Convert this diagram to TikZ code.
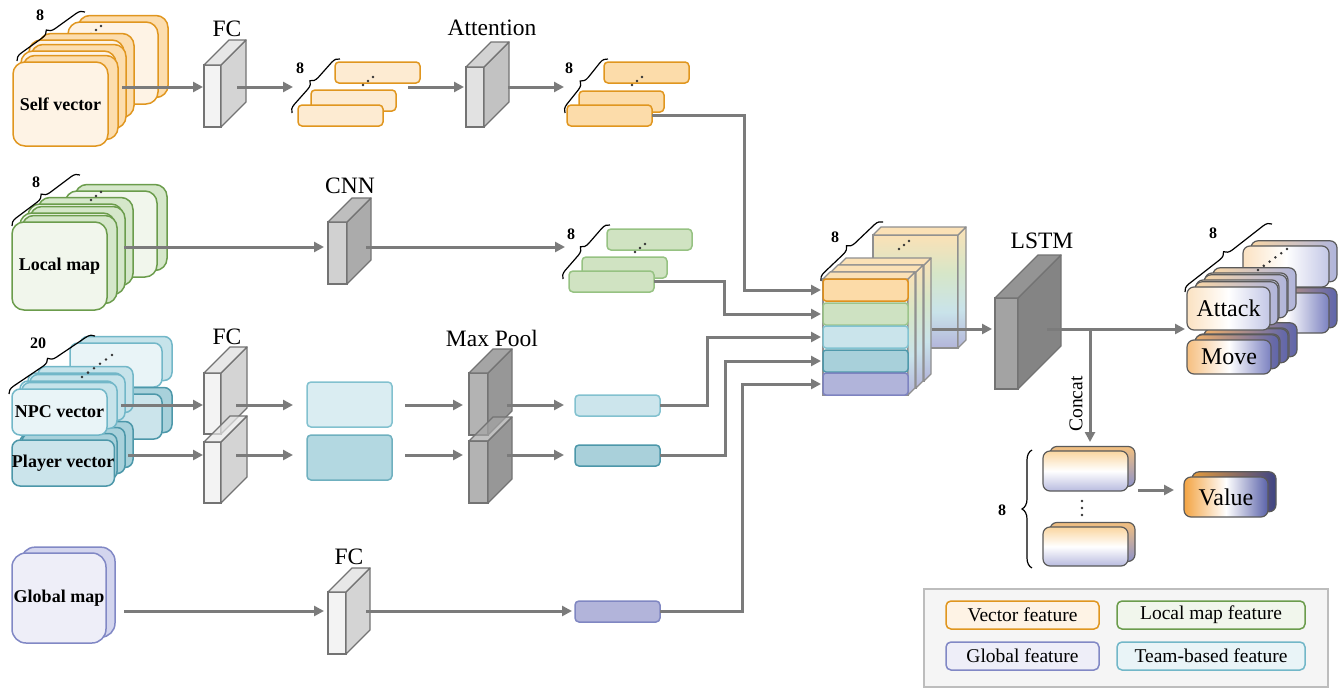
\documentclass[tikz,border=0pt]{standalone}
\usepackage{fontspec}
\setmainfont{Liberation Serif}
\usetikzlibrary{arrows.meta,decorations.pathreplacing,calc}
% colours
\definecolor{cOrS}{HTML}{E0961F}\definecolor{cSVf}{HTML}{FEF3E5}\definecolor{cSVb}{HTML}{FCDDAE}
\definecolor{cFO}{HTML}{FDEBD2}\definecolor{cAO}{HTML}{FCDCAA}
\definecolor{cGrS}{HTML}{6B9C4C}\definecolor{cLMf}{HTML}{F1F6EC}\definecolor{cLMb}{HTML}{D5E7CA}
\definecolor{cLO}{HTML}{D0E3C2}\definecolor{cLOs}{HTML}{96C282}
\definecolor{cNPf}{HTML}{E9F4F7}\definecolor{cNPb}{HTML}{C6E3EA}\definecolor{cCyS}{HTML}{72B7C8}
\definecolor{cPLf}{HTML}{CBE4EB}\definecolor{cPLb}{HTML}{A8D1DB}\definecolor{cPlS}{HTML}{4C97A9}
\definecolor{cNBa}{HTML}{DAEDF2}\definecolor{cNBas}{HTML}{82C1CF}\definecolor{cNBb}{HTML}{B3D8E1}\definecolor{cNBbs}{HTML}{6FB0BF}
\definecolor{cNOa}{HTML}{CCE5EC}\definecolor{cNOb}{HTML}{A9D0DA}
\definecolor{cGMf}{HTML}{EEEEF8}\definecolor{cGMb}{HTML}{D3D5EE}\definecolor{cPuS}{HTML}{8188C5}
\definecolor{cGO}{HTML}{B2B4DA}\definecolor{cGOs}{HTML}{8087C2}
\definecolor{cSa}{HTML}{FCDBA8}\definecolor{cSas}{HTML}{E0901C}
\definecolor{cSb}{HTML}{CEE2C2}\definecolor{cSbs}{HTML}{9CC48A}
\definecolor{cSc}{HTML}{CAE4EB}\definecolor{cScs}{HTML}{82C3D1}
\definecolor{cSd}{HTML}{A8D0DA}\definecolor{cSds}{HTML}{4F99AB}
\definecolor{cSe}{HTML}{B1B4DA}\definecolor{cSes}{HTML}{7E83C0}
\definecolor{cFCf}{HTML}{F3F3F3}\definecolor{cFCs}{HTML}{D4D4D4}\definecolor{cFCt}{HTML}{E7E7E7}
\definecolor{cATf}{HTML}{E2E2E2}\definecolor{cATs}{HTML}{C2C2C2}\definecolor{cATt}{HTML}{D3D3D3}
\definecolor{cCNf}{HTML}{D1D1D1}\definecolor{cCNs}{HTML}{ABABAB}\definecolor{cCNt}{HTML}{BEBEBE}
\definecolor{cMPf}{HTML}{B3B3B3}\definecolor{cMPs}{HTML}{979797}\definecolor{cMPt}{HTML}{A5A5A5}
\definecolor{cLSf}{HTML}{A3A3A3}\definecolor{cLSs}{HTML}{848484}\definecolor{cLSt}{HTML}{949494}
\definecolor{cEdge}{HTML}{737373}\definecolor{cArr}{HTML}{7B7B7B}\definecolor{cDk}{HTML}{5A5A5A}
\definecolor{cgO}{HTML}{FBE1B6}\definecolor{cgG}{HTML}{D6E6C8}\definecolor{cgC}{HTML}{C9E3EA}\definecolor{cgP}{HTML}{B3B5DA}
\definecolor{cLegF}{HTML}{F5F5F5}\definecolor{cLegS}{HTML}{BDBDBD}
\definecolor{cAtL}{HTML}{FBE2C2}\definecolor{cAtR}{HTML}{C3C7E6}\definecolor{cAbL}{HTML}{F7D5A6}\definecolor{cAbR}{HTML}{B0B5DC}
\definecolor{cMvL}{HTML}{F6BF80}\definecolor{cMvR}{HTML}{7B81C0}\definecolor{cMbL}{HTML}{F0B06A}\definecolor{cMbR}{HTML}{5E65AC}
\definecolor{cVgT}{HTML}{FAD6A0}\definecolor{cVgB}{HTML}{B8BBDF}\definecolor{cVbT}{HTML}{F3C07F}\definecolor{cVbB}{HTML}{8D93CA}
\definecolor{cVaL}{HTML}{F3A443}\definecolor{cVaR}{HTML}{5A62A9}\definecolor{cVcL}{HTML}{E49A3C}\definecolor{cVcR}{HTML}{3E4585}
\definecolor{cDot}{HTML}{333333}
\pgfdeclareverticalshading{concatgrad}{100bp}{color(0bp)=(cgP); color(25bp)=(cgP); color(41bp)=(cgC); color(58bp)=(cgG); color(75bp)=(cgO); color(100bp)=(cgO)}
\newcommand{\lblb}{\fontsize{18}{20}\selectfont\bfseries}
\newcommand{\bigtxt}{\fontsize{24}{26}\selectfont}
\newcommand{\cardr}{12}
% card: name, x, y, w, h, front style, back style, offset, text
\newcommand{\card}[9]{%
  \path[#7, rounded corners=\cardr] ($(#2,#3)+(#8,-0.65*#8)$) rectangle ++(#4,#5);
  \node[#6, rounded corners=\cardr, minimum width=#4, minimum height=#5, anchor=north west, inner sep=0, outer sep=0] (#1) at (#2,#3) {#9};
}
% slab: name, x, y, w, h, depth, front, side, top
\newcommand{\slab}[9]{%
  \node[slabface, fill=#7, minimum width=#4, minimum height=#5, anchor=north west] (#1) at (#2,#3) {};
  \filldraw[slabline, fill=#8] (#1.north east) -- ++(#6,-#6) -- ++(0,#5) -- (#1.south east) -- cycle;
  \filldraw[slabline, fill=#9] (#1.north west) -- ++(#6,-#6) -- ++(#4,0) -- (#1.north east) -- cycle;
}
% concat slab: name, x, y, w, h, depth
\newcommand{\cslab}[6]{%
  \node[slabface, draw=cEdge!80, shade, shading=concatgrad, minimum width=#4, minimum height=#5, anchor=north west] (#1) at (#2,#3) {};
  \draw[slabline, draw=cEdge!80, shade, shading=concatgrad] (#1.north east) -- ++(#6,-#6) -- ++(0,#5) -- (#1.south east) -- cycle;
  \filldraw[slabline, draw=cEdge!80, fill=cgO] (#1.north west) -- ++(#6,-#6) -- ++(#4,0) -- (#1.north east) -- cycle;
}
\newcommand{\diagdots}[2]{\fill[cDot] (#1-5,#2+4) circle[radius=1.4pt] (#1,#2) circle[radius=1.4pt] (#1+5,#2-4) circle[radius=1.4pt];}
\tikzset{
  slabface/.style={rectangle, draw=cEdge, line width=1.3pt, inner sep=0, outer sep=0},
  slabline/.style={draw=cEdge, line width=1.3pt, line join=round},
  arr/.style={draw=cArr, line width=3pt, -{Triangle[length=10pt,width=10pt]}},
  elb/.style={draw=cArr, line width=3pt, -{Triangle[length=10pt,width=10pt]}, rounded corners=0pt},
  fbox/.style={rectangle, rounded corners=4pt, line width=1.5pt, minimum width=85, minimum height=21, inner sep=0, outer sep=0, anchor=north west},
  brc/.style={decorate, decoration={brace, amplitude=8pt}, line width=1.2pt, black},
  num/.style={font=\fontsize{16}{18}\selectfont\bfseries},
  ttl/.style={font=\fontsize{23.5}{26}\selectfont},
  legbox/.style={rectangle, rounded corners=5pt, line width=1.5pt, minimum height=28, inner sep=0, font=\fontsize{19.5}{22}\selectfont},
  svfront/.style={fill=cSVf, draw=cOrS, line width=1.5pt},
  svback/.style={fill=cSVb, draw=cOrS, line width=1.5pt},
  lmfront/.style={fill=cLMf, draw=cGrS, line width=1.5pt},
  lmback/.style={fill=cLMb, draw=cGrS, line width=1.5pt},
  npfront/.style={fill=cNPf, draw=cCyS, line width=1.5pt},
  npback/.style={fill=cNPb, draw=cCyS, line width=1.5pt},
  plfront/.style={fill=cPLf, draw=cPlS, line width=1.5pt},
  plback/.style={fill=cPLb, draw=cPlS, line width=1.5pt},
  gmfront/.style={fill=cGMf, draw=cPuS, line width=1.5pt},
  gmback/.style={fill=cGMb, draw=cPuS, line width=1.5pt},
  atkfront/.style={left color=cAtL, right color=cAtR, middle color=white, draw=cDk, line width=1.2pt},
  atkback/.style={left color=cAbL, right color=cAbR, draw=cDk, line width=1.2pt},
  movfront/.style={left color=cMvL, right color=cMvR, middle color=white, draw=cDk, line width=1.2pt},
  movback/.style={left color=cMbL, right color=cMbR, draw=cDk, line width=1.2pt},
  vgfront/.style={top color=cVgT, bottom color=cVgB, middle color=white, draw=cDk, line width=1.2pt},
  vgback/.style={top color=cVbT, bottom color=cVbB, draw=cDk, line width=1.2pt},
  valfront/.style={left color=cVaL, right color=cVaR, middle color=white, draw=cDk, line width=1.2pt},
  valback/.style={left color=cVcL, right color=cVcR, draw=cDk, line width=1.2pt},
}
\begin{document}
\begin{tikzpicture}[x=1pt,y=-1pt]
\useasboundingbox (0,0) rectangle (1343,688);

% ---------------- Self vector stack
\renewcommand{\cardr}{12}
\card{svf}{68}{22}{90}{82}{svfront}{svback}{10}{}
\diagdots{96}{30}
\card{sv3}{29}{40}{95}{84}{svfront}{svback}{10}{}
\card{sv2}{21}{51}{95}{84}{svfront}{svback}{10}{}
\card{sv1}{13}{62}{95}{84}{svfront}{svback}{10}{\lblb Self vector}
\draw[brc] (17,61) -- (85,12);
\node[num] (n8a) at (40,15) {8};

% ---------------- Local map stack
\card{lmf}{65}{191}{92}{86}{lmfront}{lmback}{10}{}
\card{lm3}{28}{204}{95}{88}{lmfront}{lmback}{10}{}
\card{lm2}{20}{213}{95}{88}{lmfront}{lmback}{10}{}
\card{lm1}{12}{222}{95}{88}{lmfront}{lmback}{10}{\lblb Local map}
\diagdots{96}{196}
\draw[brc] (12,226) -- (80,175);
\node[num] (n8b) at (36,182) {8};

% ---------------- NPC / Player stacks
\renewcommand{\cardr}{8}
\card{npf}{70}{343}{92}{44}{npfront}{npback}{10}{}
\card{plf}{70}{394}{92}{45}{plfront}{plback}{10}{}
\card{pl3}{28}{428}{95}{46}{plfront}{plback}{10}{}
\card{pl2}{20}{434}{95}{46}{plfront}{plback}{10}{}
\card{pl1}{12}{440}{95}{46}{plfront}{plback}{10}{\lblb Player vector}
\card{np3}{28}{373}{95}{46}{npfront}{npback}{10}{}
\card{np2}{20}{381}{95}{46}{npfront}{npback}{10}{}
\card{np1}{12}{389}{95}{46}{npfront}{npback}{10}{\lblb NPC vector}
\foreach \k in {0,...,5} {\fill[cDot] (82+6*\k,377-4.4*\k) circle[radius=1.4pt];}
\draw[brc] (9,394) -- (95,336);
\node[num] (n20) at (38,343) {20};

% ---------------- Global map
\renewcommand{\cardr}{14}
\card{gm}{12}{553}{94}{90}{gmfront}{gmback}{9}{\lblb Global map}

% ---------------- layers
\slab{fc1}{204}{65}{17}{62}{25}{cFCf}{cFCs}{cFCt}
\node[ttl] (tFCa) at (227,29) {FC};
\slab{att}{466}{67}{18}{60}{25}{cATf}{cATs}{cATt}
\node[ttl] (tAtt) at (492,28) {Attention};
\slab{cnn}{328}{222}{19}{62}{24}{cCNf}{cCNs}{cCNt}
\node[ttl] (tCNN) at (350,186) {CNN};
\slab{fc2}{204}{373}{17}{61}{26}{cFCf}{cFCs}{cFCt}
\slab{fc3}{204}{442}{17}{61}{26}{cFCf}{cFCs}{cFCt, fill opacity=0.7}
\node[ttl] (tFCb) at (227,337) {FC};
\slab{mp1}{469}{373}{19}{62}{24}{cMPf}{cMPs}{cMPt}
\slab{mp2}{469}{441}{19}{62}{24}{cMPf}{cMPs}{cMPt, fill opacity=0.7}
\node[ttl] (tMP) at (492,338) {Max Pool};
\slab{fc4}{328}{592}{18}{62}{24}{cFCf}{cFCs}{cFCt}
\node[ttl] (tFCc) at (349,557) {FC};
\slab{lstm}{995}{298}{23}{91}{43}{cLSf}{cLSs}{cLSt}
\node[ttl] (tLSTM) at (1042,241) {LSTM};

% ---------------- feature boxes
\node[fbox, fill=cFO, draw=cOrS] (fo3) at (335,62) {};
\node[fbox, fill=cFO, draw=cOrS] (fo2) at (311,90) {};
\node[fbox, fill=cFO, draw=cOrS] (fo1) at (298,105) {};
\diagdots{368}{81}
\draw[brc] (292,113) -- (340,59);
\node[num] (n8c) at (300,68) {8};

\node[fbox, fill=cAO, draw=cOrS] (ao3) at (604,62) {};
\node[fbox, fill=cAO, draw=cOrS] (ao2) at (579,91) {};
\node[fbox, fill=cAO, draw=cOrS] (ao1) at (567,105) {};
\diagdots{637}{81}
\draw[brc] (565,113) -- (608,59);
\node[num] (n8d) at (569,68) {8};

\node[fbox, fill=cLO, draw=cLOs] (lo3) at (607,229) {};
\node[fbox, fill=cLO, draw=cLOs] (lo2) at (582,257) {};
\node[fbox, fill=cLO, draw=cLOs] (lo1) at (569,271) {};
\diagdots{640}{248}
\draw[brc] (563,279) -- (610,225);
\node[num] (n8e) at (571,234) {8};

\node[fbox, fill=cNBa, draw=cNBas, minimum height=45] (nb1) at (307,382) {};
\node[fbox, fill=cNBb, draw=cNBbs, minimum height=45] (nb2) at (307,435) {};
\node[fbox, fill=cNOa, draw=cNBas] (no1) at (575,395) {};
\node[fbox, fill=cNOb, draw=cPlS] (no2) at (575,445) {};
\node[fbox, fill=cGO, draw=cGOs] (go) at (575,601) {};

% ---------------- concat block
\cslab{csf}{873}{235}{85}{113}{8}
\diagdots{904}{245}
\cslab{cs3}{839}{265}{85}{116}{7}
\cslab{cs2}{831}{272}{85}{116}{7}
\node[slabface, draw=cEdge!80, fill=cLegF, minimum width=85, minimum height=116, anchor=north west] (cs1) at (823,279) {};
\draw[slabline, draw=cEdge!80, shade, shading=concatgrad] (cs1.north east) -- ++(7,-7) -- ++(0,116) -- (cs1.south east) -- cycle;
\filldraw[slabline, draw=cEdge!80, fill=cgO] (cs1.north west) -- ++(7,-7) -- ++(85,0) -- (cs1.north east) -- cycle;
\node[fbox, fill=cSa, draw=cSas, minimum height=22, rounded corners=3pt] (s1) at (823,279) {};
\node[fbox, fill=cSb, draw=cSbs, minimum height=22, rounded corners=3pt] (s2) at (823,303) {};
\node[fbox, fill=cSc, draw=cScs, minimum height=22, rounded corners=3pt] (s3) at (823,326) {};
\node[fbox, fill=cSd, draw=cSds, minimum height=22, rounded corners=3pt] (s4) at (823,350) {};
\node[fbox, fill=cSe, draw=cSes, minimum height=22, rounded corners=3pt] (s5) at (823,373) {};
\draw[brc] (821,281) -- (883,222);
\node[num] (n8f) at (835,237) {8};

% ---------------- outputs
\renewcommand{\cardr}{7}
\card{af1}{1243}{246}{86}{41}{atkfront}{atkback}{8}{}
\card{af2}{1243}{293}{86}{40}{movfront}{movback}{8}{}
\card{mv3}{1205}{328}{84}{34}{movfront}{movback}{8}{}
\card{mv2}{1196}{334}{84}{34}{movfront}{movback}{8}{}
\card{mv1}{1187}{340}{84}{34}{movfront}{movback}{8}{\bigtxt Move}
\card{at3}{1205}{273}{83}{43}{atkfront}{atkback}{8}{}
\card{at2}{1196}{280}{83}{43}{atkfront}{atkback}{8}{}
\card{atk}{1187}{287}{83}{43}{atkfront}{atkback}{8}{\bigtxt Attack}
\foreach \k in {0,...,5} {\fill[cDot] (1258+5.8*\k,270-4.2*\k) circle[radius=1.4pt];}
\draw[brc] (1185,292) -- (1272,224);
\node[num] (n8g) at (1213,233) {8};

\card{vc1}{1043}{451}{85}{40}{vgfront}{vgback}{7}{}
\card{vc2}{1043}{527}{85}{39}{vgfront}{vgback}{7}{}
\foreach \k in {0,1,2} {\fill[cDot] (1082,501+7*\k) circle[radius=1.3pt];}
\draw[brc, decoration={brace, amplitude=10pt}] (1032,568) -- (1032,450);
\node[num] (n8h) at (1002,510) {8};
\card{val}{1184}{477}{84}{40}{valfront}{valback}{8}{\bigtxt Value}

% ---------------- connectors
\coordinate (yA) at (0,87);
\coordinate (yL) at (0,247);
\coordinate (yN) at (0,405);
\coordinate (yP) at (0,455);
\coordinate (yG) at (0,611);
\coordinate (yS) at (0,329);
\coordinate (yV) at (0,490);
\draw[arr] ($(sv1.east|-yA)+(14,0)$) -- ($(fc1.west|-yA)+(-1,0)$);
\draw[arr] ($(fc1.east|-yA)+(16,0)$) -- ($(fo1.west|-yA)+(-5,0)$);
\draw[arr] ($(fo1.east|-yA)+(25,0)$) -- ($(att.west|-yA)+(-2,0)$);
\draw[arr] ($(att.east|-yA)+(24,0)$) -- ($(ao1.west|-yA)+(-3,0)$);
\draw[elb] (ao1.east) -- ($(ao1.east)+(92,0)$) |- ($(s1.west)+(-2,0)$);

\draw[arr] ($(lm1.east|-yL)+(17,0)$) -- ($(cnn.west|-yL)+(-4,0)$);
\draw[arr] ($(cnn.east|-yL)+(19,0)$) -- ($(lo1.west|-yL)+(-4,0)$);
\draw[elb] (lo1.east) -- ($(lo1.east)+(70,0)$) |- ($(s2.west)+(-2,0)$);

\draw[arr] ($(np1.east|-yN)+(14,0)$) -- ($(fc2.west|-yN)+(-1,0)$);
\draw[arr] ($(pl1.east|-yP)+(14,0)$) -- ($(fc3.west|-yP)+(-1,0)$);
\draw[arr] ($(fc2.east|-yN)+(15,0)$) -- ($(nb1.west|-yN)+(-14,0)$);
\draw[arr] ($(fc3.east|-yP)+(15,0)$) -- ($(nb2.west|-yP)+(-14,0)$);
\draw[arr] ($(nb1.east|-yN)+(13,0)$) -- ($(mp1.west|-yN)+(-6,0)$);
\draw[arr] ($(nb2.east|-yP)+(13,0)$) -- ($(mp2.west|-yP)+(-6,0)$);
\draw[arr] ($(mp1.east|-yN)+(19,0)$) -- ($(no1.west|-yN)+(-11,0)$);
\draw[arr] ($(mp2.east|-yP)+(19,0)$) -- ($(no2.west|-yP)+(-11,0)$);
\draw[elb] (no1.east) -- ($(no1.east)+(47,0)$) |- ($(s3.west)+(-2,0)$);
\draw[elb] (no2.east) -- ($(no2.east)+(65,0)$) |- ($(s4.west)+(-2,0)$);

\draw[arr] ($(gm.east|-yG)+(18,0)$) -- ($(fc4.west|-yG)+(-4,0)$);
\draw[arr] ($(fc4.east|-yG)+(20,0)$) -- ($(go.west|-yG)+(-3,0)$);
\draw[elb] (go.east) -- ($(go.east)+(82,0)$) |- ($(s5.west)+(-2,0)$);

\draw[arr] ($(cs1.east|-yS)+(24,0)$) -- ($(lstm.west|-yS)+(-3,0)$);
\draw[arr] ($(lstm.east|-yS)+(29,0)$) -- ($(atk.west|-yS)+(-2,0)$);
\coordinate (cbr) at (1090,329);
\draw[arr, shorten >=9pt] (cbr) -- (cbr |- vc1.north);
\node[rotate=90, font=\fontsize{19.5}{22}\selectfont] (tConcat) at (1076,404) {Concat};
\draw[arr] ($(vc1.east|-yV)+(10,0)$) -- ($(val.west|-yV)+(-10,0)$);

% ---------------- legend
\node[rectangle, draw=cLegS, fill=cLegF, line width=1.5pt, minimum width=404, minimum height=98, anchor=north west, inner sep=0] (leg) at (923,588) {};
\node[legbox, fill=cSVf, draw=cOrS, minimum width=153] (lg1) at (1022.5,615) {Vector feature};
\node[legbox, fill=cLMf, draw=cGrS, minimum width=188] (lg2) at (1211,615) {Local map feature};
\node[legbox, fill=cGMf, draw=cPuS, minimum width=153] (lg3) at (1022.5,656) {Global feature};
\node[legbox, fill=cNPf, draw=cCyS, minimum width=188] (lg4) at (1211,656) {Team-based feature};
\end{tikzpicture}
\end{document}
